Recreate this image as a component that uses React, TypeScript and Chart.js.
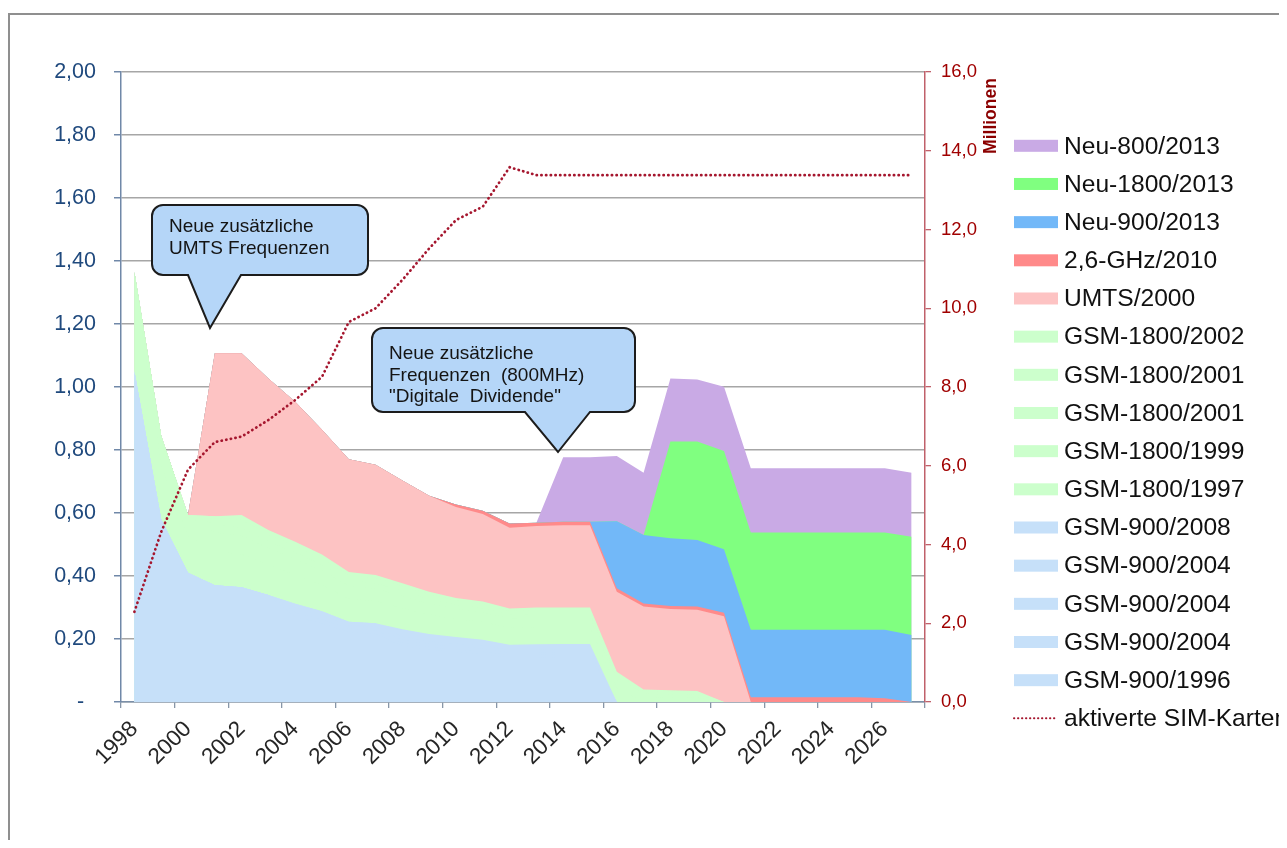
import React, { useEffect, useRef } from 'react';
import { Chart, registerables } from 'chart.js';

Chart.register(...registerables);

const FONT = "'Liberation Sans', Arial, Helvetica, sans-serif";
Chart.defaults.font.family = FONT;

// ---------- data ----------
const years = [
  '1998', '1999', '2000', '2001', '2002', '2003', '2004', '2005', '2006', '2007',
  '2008', '2009', '2010', '2011', '2012', '2013', '2014', '2015', '2016', '2017',
  '2018', '2019', '2020', '2021', '2022', '2023', '2024', '2025', '2026', '2027',
];

const gsm900_1996 = [1.05, 0.58, 0.41, 0.371, 0.364, 0.34, 0.27, 0.249, 0.222, 0.217, 0.177, 0.166, 0.158, 0.152, 0.141, 0.141, 0.142, 0.142, 0, 0, 0, 0, 0, 0, 0, 0, 0, 0, 0, 0];
const gsm900_2004a = [0, 0, 0, 0, 0, 0, 0.014, 0.013, 0.011, 0.011, 0.010, 0.009, 0.009, 0.009, 0.008, 0.008, 0.008, 0.008, 0, 0, 0, 0, 0, 0, 0, 0, 0, 0, 0, 0];
const gsm900_2004b = [0, 0, 0, 0, 0, 0, 0.015, 0.013, 0.011, 0.011, 0.010, 0.009, 0.009, 0.009, 0.008, 0.008, 0.008, 0.008, 0, 0, 0, 0, 0, 0, 0, 0, 0, 0, 0, 0];
const gsm900_2004c = [0, 0, 0, 0, 0, 0, 0.013, 0.013, 0.011, 0.011, 0.010, 0.009, 0.009, 0.009, 0.008, 0.008, 0.008, 0.008, 0, 0, 0, 0, 0, 0, 0, 0, 0, 0, 0, 0];
const gsm900_2008 = [0, 0, 0, 0, 0, 0, 0, 0, 0, 0, 0.024, 0.023, 0.021, 0.019, 0.017, 0.018, 0.018, 0.018, 0, 0, 0, 0, 0, 0, 0, 0, 0, 0, 0, 0];
const gsm1800_1997 = [0.316, 0.17, 0.118, 0.107, 0.105, 0.095, 0.091, 0.083, 0.073, 0.071, 0.067, 0.062, 0.057, 0.056, 0.053, 0.054, 0.053, 0.053, 0.044, 0, 0, 0, 0, 0, 0, 0, 0, 0, 0, 0];
const gsm1800_1999 = [0, 0.095, 0.066, 0.06, 0.059, 0.053, 0.051, 0.046, 0.041, 0.039, 0.038, 0.034, 0.032, 0.031, 0.03, 0.03, 0.03, 0.03, 0.025, 0.016, 0.015, 0.014, 0, 0, 0, 0, 0, 0, 0, 0];
const gsm1800_2001a = [0, 0, 0, 0.026, 0.025, 0.022, 0.021, 0.019, 0.017, 0.017, 0.016, 0.015, 0.014, 0.013, 0.012, 0.013, 0.013, 0.013, 0.011, 0.010, 0.009, 0.009, 0, 0, 0, 0, 0, 0, 0, 0];
const gsm1800_2001b = [0, 0, 0, 0.026, 0.025, 0.022, 0.021, 0.019, 0.017, 0.017, 0.016, 0.015, 0.014, 0.013, 0.012, 0.013, 0.013, 0.013, 0.011, 0.010, 0.009, 0.009, 0, 0, 0, 0, 0, 0, 0, 0];
const gsm1800_2002 = [0, 0, 0, 0, 0.016, 0.014, 0.013, 0.013, 0.010, 0.009, 0.009, 0.008, 0.007, 0.008, 0.008, 0.007, 0.007, 0.007, 0.005, 0.004, 0.004, 0.003, 0, 0, 0, 0, 0, 0, 0, 0];
const umts2000 = [0, 0, 0, 0.517, 0.513, 0.481, 0.444, 0.396, 0.358, 0.35, 0.326, 0.305, 0.289, 0.278, 0.256, 0.259, 0.261, 0.261, 0.254, 0.263, 0.258, 0.258, 0.272, 0, 0, 0, 0, 0, 0, 0];
const ghz26_2010 = [0, 0, 0, 0, 0, 0, 0, 0, 0, 0, 0, 0, 0.008, 0.01, 0.014, 0.01, 0.011, 0.011, 0.011, 0.01, 0.01, 0.01, 0.011, 0.015, 0.015, 0.015, 0.015, 0.015, 0.012, 0];
const neu900_2013 = [0, 0, 0, 0, 0, 0, 0, 0, 0, 0, 0, 0, 0, 0, 0, 0, 0, 0, 0.213, 0.217, 0.215, 0.211, 0.202, 0.214, 0.214, 0.214, 0.214, 0.214, 0.217, 0.213];
const neu1800_2013 = [0, 0, 0, 0, 0, 0, 0, 0, 0, 0, 0, 0, 0, 0, 0, 0, 0, 0, 0, 0, 0.307, 0.313, 0.312, 0.309, 0.309, 0.309, 0.309, 0.309, 0.309, 0.312];
const neu800_2013 = [0, 0, 0, 0, 0, 0, 0, 0, 0, 0, 0, 0, 0, 0, 0, 0, 0.205, 0.205, 0.207, 0.198, 0.2, 0.197, 0.204, 0.204, 0.204, 0.204, 0.204, 0.204, 0.204, 0.203];
const simCards = [2.29, 4.32, 5.9, 6.6, 6.74, 7.16, 7.67, 8.26, 9.65, 10.0, 10.72, 11.52, 12.24, 12.58, 13.58, 13.38, 13.38, 13.38, 13.38, 13.38, 13.38, 13.38, 13.38, 13.38, 13.38, 13.38, 13.38, 13.38, 13.38, 13.38];

const leftTicks = [0, 0.2, 0.4, 0.6, 0.8, 1.0, 1.2, 1.4, 1.6, 1.8, 2.0];
const rightTicks = [0, 2, 4, 6, 8, 10, 12, 14, 16];

// ---------- styles ----------
const C_GSM900 = '#C6E0F9';
const C_GSM1800 = '#CCFFCC';
const C_UMTS = '#FDC3C3';
const C_GHZ = '#FF8A8A';
const C_NEU900 = '#72B8F8';
const C_NEU1800 = '#80FF80';
const C_NEU800 = '#C9AAE5';
const C_SIM = '#A5162E';

const areaSeries = [
  { label: 'GSM-900/1996', data: gsm900_1996, color: C_GSM900 },
  { label: 'GSM-900/2004', data: gsm900_2004a, color: C_GSM900 },
  { label: 'GSM-900/2004', data: gsm900_2004b, color: C_GSM900 },
  { label: 'GSM-900/2004', data: gsm900_2004c, color: C_GSM900 },
  { label: 'GSM-900/2008', data: gsm900_2008, color: C_GSM900 },
  { label: 'GSM-1800/1997', data: gsm1800_1997, color: C_GSM1800 },
  { label: 'GSM-1800/1999', data: gsm1800_1999, color: C_GSM1800 },
  { label: 'GSM-1800/2001', data: gsm1800_2001a, color: C_GSM1800 },
  { label: 'GSM-1800/2001', data: gsm1800_2001b, color: C_GSM1800 },
  { label: 'GSM-1800/2002', data: gsm1800_2002, color: C_GSM1800 },
  { label: 'UMTS/2000', data: umts2000, color: C_UMTS },
  { label: '2,6-GHz/2010', data: ghz26_2010, color: C_GHZ },
  { label: 'Neu-900/2013', data: neu900_2013, color: C_NEU900 },
  { label: 'Neu-1800/2013', data: neu1800_2013, color: C_NEU1800 },
  { label: 'Neu-800/2013', data: neu800_2013, color: C_NEU800 },
];
const simLabel = 'aktiverte SIM-Karten';

// ---------- overlay: legend, axis title, callouts ----------
function bubble(ctx: CanvasRenderingContext2D, x0: number, y0: number, x1: number, y1: number,
  r: number, pL: number, pR: number, tx: number, ty: number, lines: string[], textX: number, base: number, lh: number) {
  ctx.save();
  ctx.beginPath();
  ctx.moveTo(x0 + r, y0);
  ctx.lineTo(x1 - r, y0);
  ctx.arcTo(x1, y0, x1, y0 + r, r);
  ctx.lineTo(x1, y1 - r);
  ctx.arcTo(x1, y1, x1 - r, y1, r);
  ctx.lineTo(pR, y1);
  ctx.lineTo(tx, ty);
  ctx.lineTo(pL, y1);
  ctx.lineTo(x0 + r, y1);
  ctx.arcTo(x0, y1, x0, y1 - r, r);
  ctx.lineTo(x0, y0 + r);
  ctx.arcTo(x0, y0, x0 + r, y0, r);
  ctx.closePath();
  ctx.fillStyle = '#B5D6F8';
  ctx.fill();
  ctx.lineWidth = 2;
  ctx.strokeStyle = '#1c1c1c';
  ctx.lineJoin = 'miter';
  ctx.stroke();
  ctx.fillStyle = '#141414';
  ctx.font = `19px ${FONT}`;
  ctx.textAlign = 'left';
  ctx.textBaseline = 'alphabetic';
  lines.forEach((t, i) => ctx.fillText(t, textX, base + i * lh));
  ctx.restore();
}

const overlayPlugin = {
  id: 'overlay',
  afterDraw(chart: any) {
    const ctx: CanvasRenderingContext2D = chart.ctx;
    // right axis title
    ctx.save();
    ctx.translate(983, 108);
    ctx.rotate(-Math.PI / 2);
    ctx.font = `bold 17.5px ${FONT}`;
    ctx.fillStyle = '#8B0000';
    ctx.textAlign = 'center';
    ctx.textBaseline = 'middle';
    ctx.fillText('Millionen', 0, 0);
    ctx.restore();

    // legend
    ctx.save();
    const ds = chart.data.datasets;
    const areas = ds.filter((d: any) => d.yAxisID === 'y').slice().reverse();
    const line = ds.find((d: any) => d.yAxisID === 'y1');
    const top = 137.8;
    const step = 38.17;
    ctx.font = `24.6px ${FONT}`;
    ctx.textAlign = 'left';
    ctx.textBaseline = 'middle';
    areas.forEach((d: any, k: number) => {
      const cy = top + step * k;
      ctx.fillStyle = d.backgroundColor;
      ctx.fillRect(1006, cy - 6, 44, 12);
      ctx.fillStyle = '#111';
      ctx.fillText(d.label, 1056, cy + 1);
    });
    if (line) {
      const cy = top + step * areas.length;
      ctx.beginPath();
      ctx.strokeStyle = line.borderColor;
      ctx.lineWidth = 2;
      ctx.lineCap = 'round';
      ctx.setLineDash([0.3, 3.7]);
      ctx.moveTo(1006, cy);
      ctx.lineTo(1048, cy);
      ctx.stroke();
      ctx.setLineDash([]);
      ctx.fillStyle = '#111';
      ctx.fillText(line.label, 1056, cy + 1);
    }
    ctx.restore();

    // callouts
    bubble(ctx, 144, 197, 360, 267, 11, 180, 233, 202, 320,
      ['Neue zusätzliche', 'UMTS Frequenzen'], 161, 224, 22);
    bubble(ctx, 364, 320, 627, 404, 11, 517, 582, 550, 444,
      ['Neue zusätzliche', 'Frequenzen  (800MHz)', '"Digitale  Dividende"'], 381, 351, 21.5);
  },
};

export default function App() {
  const ref = useRef<HTMLCanvasElement>(null);

  useEffect(() => {
    if (!ref.current) return;
    // each stacked area is filled down to the axis; lower series are painted on top,
    // which avoids seams between neighbouring fills of the same colour
    const datasets: any[] = areaSeries.map((s) => ({
      type: 'line',
      label: s.label,
      data: s.data,
      yAxisID: 'y',
      backgroundColor: s.color,
      borderColor: s.color,
      borderWidth: 0,
      pointRadius: 0,
      pointHoverRadius: 0,
      tension: 0,
      fill: 'origin',
      order: 1,
    }));
    datasets.push({
      type: 'line',
      label: simLabel,
      data: simCards,
      yAxisID: 'y1',
      borderColor: C_SIM,
      backgroundColor: C_SIM,
      borderWidth: 2.7,
      borderDash: [0.3, 4.4],
      borderCapStyle: 'round',
      pointRadius: 0,
      pointHoverRadius: 0,
      tension: 0,
      fill: false,
      order: 0,
    });

    const chart = new Chart(ref.current, {
      type: 'line',
      data: { labels: years, datasets },
      options: {
        responsive: false,
        animation: false,
        events: [],
        layout: { padding: { left: 0, top: 64, right: 302, bottom: 58 } },
        plugins: {
          legend: { display: false },
          tooltip: { enabled: false },
        },
        scales: {
          x: {
            type: 'category',
            offset: true,
            grid: {
              offset: true,
              drawOnChartArea: false,
              drawTicks: true,
              tickLength: 6,
              lineWidth: 1.3,
              color: (c: any) => (c.index === undefined || c.index % 2 === 0 ? '#8896A8' : 'rgba(0,0,0,0)'),
              tickColor: (c: any) => (c.index === undefined || c.index % 2 === 0 ? '#8896A8' : 'rgba(0,0,0,0)'),
            },
            border: { color: '#7B8FA8', width: 1.5 },
            ticks: {
              autoSkip: false,
              minRotation: 45,
              maxRotation: 45,
              padding: 8,
              color: '#262626',
              font: { size: 22.5 },
              callback: (_v: any, i: number) => (i % 2 === 0 ? years[i] : ''),
            },
            afterFit: (s: any) => { s.height = 80; },
          },
          y: {
            type: 'linear',
            position: 'left',
            stacked: true,
            min: leftTicks[0],
            max: leftTicks[leftTicks.length - 1],
            afterBuildTicks: (s: any) => { s.ticks = leftTicks.map((v) => ({ value: v })); },
            grid: { color: '#A6A6A6', lineWidth: 1.5, tickLength: 7, tickColor: '#7088A8' },
            border: { color: '#7088A8', width: 1.5 },
            ticks: {
              color: '#1F497D',
              font: { size: 21.5 },
              padding: 18,
              callback: (v: any) => (Number(v) === 0 ? '-  ' : Number(v).toFixed(2).replace('.', ',')),
            },
            afterFit: (s: any) => { s.width = 113; },
          },
          y1: {
            type: 'linear',
            position: 'right',
            min: rightTicks[0],
            max: rightTicks[rightTicks.length - 1],
            afterBuildTicks: (s: any) => { s.ticks = rightTicks.map((v) => ({ value: v })); },
            grid: { drawOnChartArea: false, tickLength: 6, color: '#C0606A', lineWidth: 1.3 },
            border: { color: '#C0606A', width: 1.5 },
            ticks: {
              color: '#A00000',
              font: { size: 18.5 },
              padding: 10,
              callback: (v: any) => Number(v).toFixed(1).replace('.', ','),
            },
            afterFit: (s: any) => { s.width = 60; },
          },
        },
      },
      plugins: [overlayPlugin],
    } as any);

    return () => chart.destroy();
  }, []);

  return (
    <div style={{ position: 'relative', width: 1279, height: 832, overflow: 'hidden' }}>
      <div
        style={{
          position: 'absolute', left: 0, top: 5, width: 1400, height: 900,
          border: '2px solid #8f8f8f', boxSizing: 'border-box',
        }}
      />
      <canvas
        ref={ref}
        width={1279}
        height={832}
        style={{ position: 'absolute', left: 0, top: 0, width: 1279, height: 832 }}
      />
    </div>
  );
}
